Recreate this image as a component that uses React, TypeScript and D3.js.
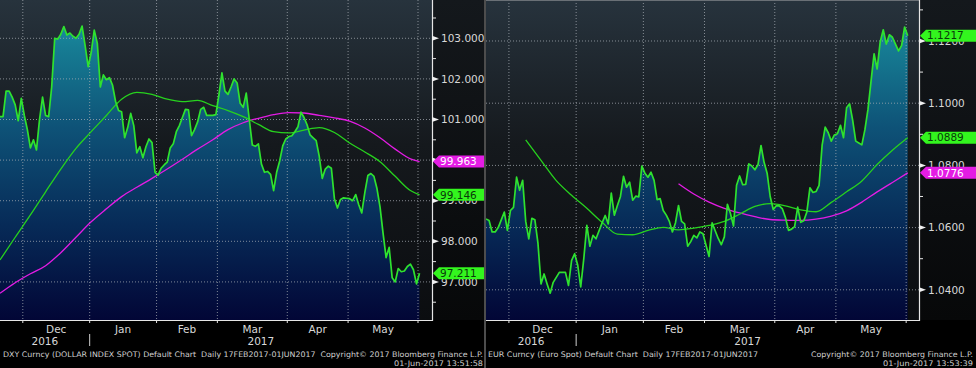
import React from 'react';
import * as d3 from 'd3';

// ---------- data ----------
const tradingDays: Date[] = d3.timeDay
  .range(new Date(2016, 10, 21), new Date(2017, 5, 2))
  .filter((d) => d.getDay() !== 0 && d.getDay() !== 6);

const monthLabels = ['Dec', 'Jan', 'Feb', 'Mar', 'Apr', 'May'];
const yearLabels = ['2016', '2017'];

const dxyClose = [
  101.07, 101.07, 101.7, 101.7, 101.55, 101.36, 100.97, 101.52, 101.1, 100.75,
  100.3, 100.5, 100.25, 101.0, 101.55, 101.1, 101.07, 101.8, 103.0, 102.98,
  103.1, 103.29, 103.08, 103.13, 103.05, 103.0, 103.1, 103.3, 102.82, 102.3,
  102.65, 103.2, 102.88, 101.8, 102.1, 101.98, 102.03, 101.85, 101.45, 101.22,
  101.19, 100.55, 100.8, 101.15, 100.85, 100.18, 100.33, 100.06, 100.33, 100.52,
  100.43, 99.7, 99.63, 99.8, 99.88, 99.95, 100.3, 100.4, 100.7, 100.85,
  101.05, 101.25, 101.24, 100.6, 100.75, 100.94, 101.25, 101.3, 101.1, 101.1,
  101.1, 101.12, 101.6, 102.15, 101.7, 101.62, 101.8, 102.0, 101.9, 101.4,
  101.3, 101.65, 101.0, 100.37, 100.34, 100.4, 99.9, 99.7, 99.72, 99.65,
  99.25, 99.7, 99.98, 100.35, 100.52, 100.58, 100.6, 100.7, 100.82, 101.18,
  101.05, 100.87, 100.62, 100.55, 100.48, 100.1, 99.55, 99.78, 99.85, 99.8,
  99.05, 98.82, 99.03, 99.07, 99.06, 99.05, 99.0, 99.15, 98.9, 98.7,
  99.2, 99.62, 99.67, 99.6, 99.3, 98.85, 98.2, 97.6, 97.85, 97.1,
  97.0, 97.33, 97.25, 97.27, 97.38, 97.44, 97.3, 96.95, 97.211,
];
const dxyMaIdx = d3.range(0, 136, 5).concat([138]);
const dxyMa50 = [
  97.54, 98.1, 98.65, 99.22, 99.78, 100.29, 100.7, 101.1, 101.5, 101.67,
  101.62, 101.5, 101.44, 101.47, 101.34, 101.22, 101.07, 100.88, 100.7, 100.67,
  100.74, 100.8, 100.68, 100.42, 100.2, 99.96, 99.6, 99.25, 99.146,
];
const dxyMa100 = [
  96.72, 96.98, 97.2, 97.4, 97.72, 98.1, 98.48, 98.8, 99.1, 99.33,
  99.55, 99.78, 100.02, 100.27, 100.5, 100.75, 100.92, 101.03, 101.12, 101.17,
  101.16, 101.1, 101.04, 100.96, 100.79, 100.55, 100.27, 100.03, 99.963,
];
const dxyTicks = [97, 98, 99, 100, 101, 102, 103];
const dxyMinor = [96.5, 97.5, 98.5, 99.5, 100.5, 101.5, 102.5, 103.5];

const eurClose = [
  1.0628, 1.0623, 1.0586, 1.0586, 1.06, 1.0625, 1.065, 1.0591, 1.0655, 1.0665,
  1.0762, 1.072, 1.0752, 1.062, 1.0564, 1.063, 1.0625, 1.055, 1.0419, 1.0451,
  1.0419, 1.0389, 1.0424, 1.044, 1.0456, 1.0456, 1.0456, 1.0414, 1.0494, 1.0516,
  1.048, 1.0409, 1.05, 1.0607, 1.054, 1.0575, 1.0564, 1.059, 1.0615, 1.0639,
  1.0612, 1.0711, 1.064, 1.0671, 1.07, 1.0765, 1.073, 1.0746, 1.0688, 1.0701,
  1.0699, 1.0798, 1.0775, 1.0762, 1.0778, 1.0752, 1.069, 1.0693, 1.0655, 1.064,
  1.062, 1.0586, 1.0615, 1.0671, 1.062, 1.0612, 1.054, 1.0555, 1.0575, 1.0567,
  1.0586, 1.058, 1.0543, 1.0507, 1.0615, 1.059, 1.0565, 1.0545, 1.057, 1.0675,
  1.0645, 1.0605, 1.0736, 1.0766, 1.0738, 1.0739, 1.0805, 1.0798, 1.0786, 1.0802,
  1.0864, 1.081, 1.0775, 1.07, 1.0658, 1.067, 1.067, 1.066, 1.0632, 1.0591,
  1.0595, 1.0603, 1.0666, 1.0617, 1.0622, 1.065, 1.0728, 1.0713, 1.0716, 1.0736,
  1.0865, 1.0923, 1.0905, 1.0878, 1.0898, 1.0902, 1.0929, 1.0889, 1.0985, 1.0998,
  1.0945, 1.0878, 1.0872, 1.0866, 1.0915, 1.098, 1.107, 1.1159, 1.111, 1.1197,
  1.1236, 1.119, 1.122, 1.1212, 1.119, 1.1168, 1.1185, 1.1245, 1.1217,
];
const eurMa50Idx = d3.range(13, 136, 5).concat([138]);
const eurMa50 = [
  1.0882, 1.0816, 1.0751, 1.0704, 1.0662, 1.0617, 1.0579, 1.0577, 1.0591, 1.0601,
  1.0593, 1.0598, 1.0607, 1.062, 1.0643, 1.0668, 1.0677, 1.067, 1.0657, 1.0651,
  1.0681, 1.0715, 1.075, 1.0803, 1.0849, 1.0889,
];
const eurMa100Idx = d3.range(63, 136, 5).concat([138]);
const eurMa100 = [
  1.0741, 1.0708, 1.0682, 1.0662, 1.0647, 1.0635, 1.0626, 1.0624, 1.0623, 1.0627,
  1.0637, 1.0654, 1.0682, 1.0715, 1.0745, 1.0776,
];
const eurTicks = [1.04, 1.06, 1.08, 1.1, 1.12];
const eurMinor = [1.05, 1.07, 1.09, 1.11, 1.13];

const dxyFooter1 = 'DXY Curncy (DOLLAR INDEX SPOT) Default Chart  Daily 17FEB2017-01JUN2017  Copyright\u00A9 2017 Bloomberg Finance L.P.';
const dxyFooter2 = '01-Jun-2017 13:51:58';
const eurFooter1 = 'EUR Curncy (Euro Spot) Default Chart  Daily 17FEB2017-01JUN2017';
const eurFooter1b = 'Copyright\u00A9 2017 Bloomberg Finance L.P.';
const eurFooter2 = '01-Jun-2017 13:53:39';

// ---------- style ----------
const GREEN = '#2fe22f';
const MAGENTA = '#e41ce4';
const AXIS_TXT = '#d8d8d8';
const FONT = '"DejaVu Sans", Verdana, sans-serif';
const PLOT_BOTTOM = 320;

type Foot = { text: string; x: number; len: number; y: number };
type PanelProps = {
  id: string;
  left: number;
  axisX: number;
  right: number;
  xMax: number;
  close: number[];
  ma50Idx: number[];
  ma50: number[];
  ma100Idx: number[];
  ma100: number[];
  yDomain: [number, number];
  ticks: number[];
  minor: number[];
  fmt: (v: number) => string;
  foot: Foot[];
  topBorder?: boolean;
};

function Panel(p: PanelProps) {
  const x = d3.scaleLinear().domain([0, p.xMax]).range([p.left, p.axisX]);
  const y = d3.scaleLinear().domain(p.yDomain).range([PLOT_BOTTOM, 0]);
  const line = d3.line<number>().x((_, i) => x(i)).y((d) => y(d));
  const area = d3.area<number>().x((_, i) => x(i)).y0(PLOT_BOTTOM).y1((d) => y(d));
  const maLine = (idx: number[]) =>
    d3.line<number>().x((_, i) => x(idx[i])).y((d) => y(d)).curve(d3.curveMonotoneX);

  const bounds: number[] = [];
  let yearBound = 0;
  for (let i = 1; i < tradingDays.length; i++) {
    if (tradingDays[i].getMonth() !== tradingDays[i - 1].getMonth()) bounds.push(i - 0.5);
    if (tradingDays[i].getFullYear() !== tradingDays[i - 1].getFullYear()) yearBound = i - 0.5;
  }
  const yearCenters = [(0 + yearBound) / 2, (yearBound + p.xMax) / 2];

  const n = p.close.length - 1;
  const tags = [
    { v: p.ma100[p.ma100.length - 1], fill: MAGENTA, txt: '#ffffff' },
    { v: p.ma50[p.ma50.length - 1], fill: '#33f51e', txt: '#0a3a0a' },
    { v: p.close[n], fill: '#33f51e', txt: '#0a3a0a' },
  ];
  const clipId = `clip-${p.id}`;

  return (
    <g>
      <defs>
        <clipPath id={clipId}>
          <rect x={p.left} y={0} width={p.axisX - p.left} height={PLOT_BOTTOM} />
        </clipPath>
      </defs>
      <rect x={p.left} y={0} width={p.axisX - p.left} height={PLOT_BOTTOM} fill="url(#bgGrad)" />
      <rect x={p.axisX} y={0} width={p.right - p.axisX} height={PLOT_BOTTOM} fill="url(#axGrad)" />
      <g clipPath={`url(#${clipId})`}>
        <path d={area(p.close) || ''} fill="url(#fillGrad)" />
        {p.ticks.map((t) => (
          <line key={'h' + t} x1={p.left} x2={p.axisX} y1={y(t)} y2={y(t)}
            stroke="#a8aeb4" strokeOpacity={0.75} strokeWidth={1} strokeDasharray="1 2" />
        ))}
        {bounds.map((b) => (
          <line key={'v' + b} x1={x(b)} x2={x(b)} y1={0} y2={PLOT_BOTTOM}
            stroke="#a8aeb4" strokeOpacity={0.75} strokeWidth={1} strokeDasharray="1 2" />
        ))}
        <path d={maLine(p.ma100Idx)(p.ma100) || ''} fill="none" stroke={MAGENTA} strokeWidth={1.3} />
        <path d={maLine(p.ma50Idx)(p.ma50) || ''} fill="none" stroke="#27d21e" strokeWidth={1.3} />
        <path d={line(p.close) || ''} fill="none" stroke={GREEN} strokeWidth={1.7} strokeLinejoin="round" />
      </g>
      {p.topBorder && (
        <line x1={p.left} x2={p.axisX} y1={0.5} y2={0.5} stroke="#6a7076" strokeWidth={1} />
      )}
      {/* y axis */}
      <line x1={p.axisX + 0.5} x2={p.axisX + 0.5} y1={0} y2={PLOT_BOTTOM + 1} stroke="#e6e6e6" strokeWidth={1.2} />
      {p.minor.map((t) => (
        <line key={'m' + t} x1={p.axisX} x2={p.axisX + 4} y1={y(t)} y2={y(t)} stroke="#e6e6e6" strokeWidth={1} />
      ))}
      {p.ticks.map((t) => (
        <g key={'t' + t}>
          <path d={`M${p.axisX},${y(t) - 2.5}L${p.axisX + 7},${y(t)}L${p.axisX},${y(t) + 2.5}Z`} fill="#f0f0f0" />
          <text x={p.axisX + 9} y={y(t)} dy="0.36em" fill={AXIS_TXT} fontSize={10.5} fontFamily={FONT}>
            {p.fmt(t)}
          </text>
        </g>
      ))}
      {tags.map((t, i) => {
        const ty = y(t.v);
        const x0 = p.axisX + 1;
        return (
          <g key={'tag' + i}>
            <path d={`M${x0},${ty}L${x0 + 6},${ty - 6}L${p.right},${ty - 6}L${p.right},${ty + 6}L${x0 + 6},${ty + 6}Z`}
              fill={t.fill} />
            <text x={p.axisX + 8} y={ty} dy="0.36em" fill={t.txt} fontSize={10.5} fontFamily={FONT}>
              {p.fmt(t.v)}
            </text>
          </g>
        );
      })}
      {/* x axis */}
      <line x1={p.left} x2={p.axisX} y1={PLOT_BOTTOM + 0.5} y2={PLOT_BOTTOM + 0.5} stroke="#e6e6e6" strokeWidth={1.2} />
      {bounds.map((b) => (
        <line key={'xt' + b} x1={x(b)} x2={x(b)} y1={PLOT_BOTTOM} y2={PLOT_BOTTOM + 3} stroke="#e6e6e6" />
      ))}
      {monthLabels.map((m, k) => (
        <text key={m} x={x((bounds[k] + bounds[k + 1]) / 2)} y={333} textAnchor="middle"
          fill={AXIS_TXT} fontSize={10.5} fontFamily={FONT}>{m}</text>
      ))}
      {yearLabels.map((yl, k) => (
        <text key={yl} x={x(yearCenters[k])} y={345} textAnchor="middle"
          fill={AXIS_TXT} fontSize={10.5} fontFamily={FONT}>{yl}</text>
      ))}
      <line x1={x(yearBound)} x2={x(yearBound)} y1={334} y2={346} stroke="#cfcfcf" strokeWidth={1} />
      {p.foot.map((f, i) => (
        <text key={'f' + i} x={f.x} y={f.y} fill="#d0d0d0" fontSize={7.6} fontFamily={FONT}
          textLength={f.len} lengthAdjust="spacingAndGlyphs" style={{ whiteSpace: 'pre' }}>
          {f.text}
        </text>
      ))}
    </g>
  );
}

export default function App() {
  const f3 = d3.format('.3f');
  const f4 = d3.format('.4f');
  return (
    <svg width={976} height={368} style={{ position: 'absolute', left: 0, top: 0, display: 'block' }}>
      <defs>
        <linearGradient id="bgGrad" gradientUnits="userSpaceOnUse" x1={0} y1={0} x2={0} y2={PLOT_BOTTOM}>
          <stop offset="0" stopColor="#27333d" />
          <stop offset="0.45" stopColor="#15191d" />
          <stop offset="1" stopColor="#0b0d10" />
        </linearGradient>
        <linearGradient id="axGrad" gradientUnits="userSpaceOnUse" x1={0} y1={0} x2={0} y2={PLOT_BOTTOM}>
          <stop offset="0" stopColor="#14181c" />
          <stop offset="1" stopColor="#070809" />
        </linearGradient>
        <linearGradient id="fillGrad" gradientUnits="userSpaceOnUse" x1={0} y1={0} x2={0} y2={PLOT_BOTTOM}>
          <stop offset="0" stopColor="#1d97a8" />
          <stop offset="0.15" stopColor="#167c93" />
          <stop offset="0.4" stopColor="#0e5277" />
          <stop offset="0.7" stopColor="#072b58" />
          <stop offset="1" stopColor="#020636" />
        </linearGradient>
      </defs>
      <rect x={0} y={0} width={976} height={368} fill="#000" />
      <Panel
        id="dxy" left={0} axisX={432} right={484} xMax={142.1}
        close={dxyClose} ma50Idx={dxyMaIdx} ma50={dxyMa50} ma100Idx={dxyMaIdx} ma100={dxyMa100}
        yDomain={[96.062, 103.943]} ticks={dxyTicks} minor={dxyMinor} fmt={f3}
        foot={[
          { text: dxyFooter1, x: 3, len: 480, y: 357 },
          { text: dxyFooter2, x: 394, len: 89, y: 366 },
        ]}
      />
      <Panel
        id="eur" left={486} axisX={919} right={976} xMax={141.7}
        close={eurClose} ma50Idx={eurMa50Idx} ma50={eurMa50} ma100Idx={eurMa100Idx} ma100={eurMa100}
        yDomain={[1.03029, 1.13318]} ticks={eurTicks} minor={eurMinor} fmt={f4}
        topBorder
        foot={[
          { text: eurFooter1, x: 488, len: 270, y: 357 },
          { text: eurFooter1b, x: 811, len: 162, y: 357 },
          { text: eurFooter2, x: 883, len: 90, y: 366 },
        ]}
      />
      <line x1={485} x2={485} y1={0} y2={368} stroke="#9a9a9a" strokeWidth={1} />
    </svg>
  );
}
